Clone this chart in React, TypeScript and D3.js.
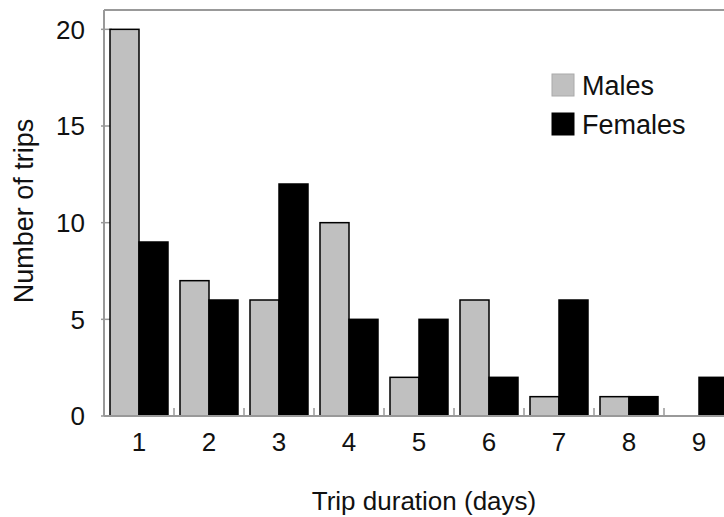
import React from "react";
import * as d3 from "d3";

const categories = ["1", "2", "3", "4", "5", "6", "7", "8", "9"];
const males = [20, 7, 6, 10, 2, 6, 1, 1, 0];
const females = [9, 6, 12, 5, 5, 2, 6, 1, 2];
const seriesNames = ["Males", "Females"];
const yTicks = [0, 5, 10, 15, 20];

const W = 724;
const H = 517;
const left = 104;
const top = 10;
const bottom = 416;
const band = 70;

export default function App() {
  const x0 = d3
    .scaleBand<string>()
    .domain(categories)
    .range([left, left + band * categories.length])
    .padding(0);
  const x1 = d3.scaleBand<string>().domain(seriesNames).range([6, 64]).padding(0);
  const y = d3.scaleLinear().domain([0, 21]).range([bottom, top]);
  const fills: Record<string, string> = { Males: "#c0c0c0", Females: "#000000" };
  const data: Record<string, number[]> = { Males: males, Females: females };
  const font = "'Liberation Sans', Arial, sans-serif";
  const axisColor = "#999999";

  return (
    <svg
      width={W}
      height={H}
      style={{ position: "absolute", left: 0, top: 0, background: "#fff" }}
      fontFamily={font}
    >
      <rect x={0} y={0} width={W} height={H} fill="#fff" />
      {/* plot frame */}
      <line x1={left} x2={W + 20} y1={top} y2={top} stroke={axisColor} strokeWidth={2} />
      <line x1={left} x2={left} y1={top} y2={bottom} stroke={axisColor} strokeWidth={2} />
      {/* y ticks */}
      {yTicks.map((t) => (
        <g key={t}>
          <line x1={left - 3} x2={left + 8} y1={y(t)} y2={y(t)} stroke={axisColor} strokeWidth={1.5} />
          <text x={85} y={y(t)} dy="0.36em" textAnchor="end" fontSize={26} fill="#111">
            {t}
          </text>
        </g>
      ))}
      {/* x ticks at category boundaries */}
      {categories.slice(1).map((c) => (
        <line
          key={c}
          x1={x0(c)!}
          x2={x0(c)!}
          y1={bottom}
          y2={bottom - 8}
          stroke={axisColor}
          strokeWidth={1.5}
        />
      ))}
      {/* bars */}
      {categories.map((c, i) =>
        seriesNames.map((s) => {
          const v = data[s][i];
          if (v <= 0) return null;
          return (
            <rect
              key={c + s}
              x={x0(c)! + x1(s)!}
              y={y(v)}
              width={x1.bandwidth()}
              height={bottom - y(v)}
              fill={fills[s]}
              stroke="#000"
              strokeWidth={1.5}
            />
          );
        })
      )}
      {/* x axis line */}
      <line x1={left} x2={W + 20} y1={bottom} y2={bottom} stroke={axisColor} strokeWidth={2} />
      {/* x labels */}
      {categories.map((c) => (
        <text
          key={c}
          x={x0(c)! + x0.bandwidth() / 2}
          y={451}
          textAnchor="middle"
          fontSize={26}
          fill="#111"
        >
          {c}
        </text>
      ))}
      {/* axis titles */}
      <text x={424} y={510} textAnchor="middle" fontSize={26} fill="#111">
        Trip duration (days)
      </text>
      <text
        transform={`translate(33,211) rotate(-90)`}
        textAnchor="middle"
        fontSize={27}
        fill="#111"
      >
        Number of trips
      </text>
      {/* legend */}
      {seriesNames.map((s, i) => (
        <g key={s} transform={`translate(552,${74 + i * 39})`}>
          <rect x={0} y={0} width={22} height={22} fill={fills[s]} stroke={s === "Males" ? "#aaa" : "#000"} strokeWidth={1} />
          <text x={30} y={21} fontSize={27} fill="#111">
            {s}
          </text>
        </g>
      ))}
    </svg>
  );
}
